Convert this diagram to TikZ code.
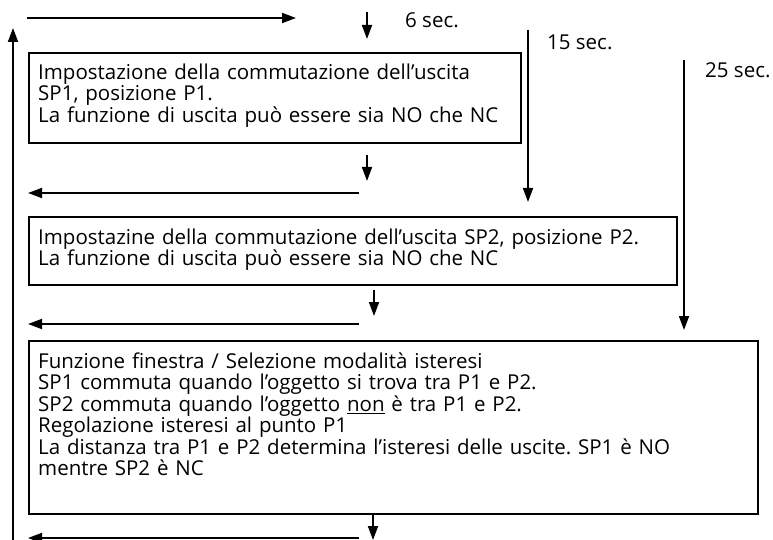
\documentclass[tikz,border=0pt]{standalone}
\usepackage{fontspec}
\setmainfont{Open Sans}
\usetikzlibrary{arrows.meta}
\newcommand{\topstrut}[1]{\rule{0pt}{#1}}
\newcommand{\botstrut}[1]{\rule[-#1]{0pt}{#1}}
\begin{document}
\lineskiplimit=-100pt\relax
\frenchspacing
\begin{tikzpicture}[x=1pt,y=-1pt,
  font=\fontsize{20.5}{21.5}\selectfont,
  flow/.style={line width=1.8pt,-{Triangle[length=14pt,width=10pt]}},
  box/.style={draw,line width=2.4pt,anchor=north west,align=left,inner xsep=9pt,inner ysep=0pt},
  lbl/.style={anchor=base west,inner sep=0pt}]
\useasboundingbox (0,0) rectangle (773,540);

\node[box,text width=474pt] (b1) at (28,52)
 {\topstrut{26pt}Impostazione della commutazione dell’uscita\\SP1, posizione P1.\\La funzione di uscita può essere sia NO che NC\botstrut{21pt}};
\node[box,text width=630pt] (b2) at (28,216)
 {\topstrut{27pt}Impostazine della commutazione dell’uscita SP2, posizione P2.\\La funzione di uscita può essere sia NO che NC\botstrut{19.5pt}};
\node[box,text width=711pt] (b3) at (28,340)
 {\topstrut{27pt}Funzione finestra / Selezione modalità isteresi\\SP1 commuta quando l’oggetto si trova tra P1 e P2.\\SP2 commuta quando l’oggetto \underline{non} è tra P1 e P2.\\Regolazione isteresi al punto P1\\La distanza tra P1 e P2 determina l’isteresi delle uscite. SP1 è NO\\mentre SP2 è NC\botstrut{38.5pt}};

\node[lbl] (t6) at (405,28) {6 sec.};
\node[lbl] (t15) at (547,50) {15 sec.};
\node[lbl] (t25) at (705,78) {25 sec.};

\coordinate (topL) at (27,18);  \coordinate (topR) at (296,18);
\coordinate (upB) at (13,540);  \coordinate (upT) at (13,28);
\coordinate (a1s) at (367,12);  \coordinate (a1e) at (367,39);
\coordinate (s15) at (528,30);  \coordinate (e15) at (528,202);
\coordinate (s25) at (684,60);  \coordinate (e25) at (684,330);
\coordinate (a2s) at (367,155); \coordinate (a2e) at (367,181);
\coordinate (l1s) at (359,193); \coordinate (l1e) at (28,193);
\coordinate (a3s) at (374,290); \coordinate (a3e) at (374,316);
\coordinate (l2s) at (359,324); \coordinate (l2e) at (28,324);
\coordinate (a4s) at (373,515); \coordinate (a4e) at (373,540);
\coordinate (l3s) at (359,538); \coordinate (l3e) at (28,538);

\draw[flow] (topL) -- (topR);
\draw[flow] (upB) -- (upT);
\draw[flow] (a1s) -- (a1e);
\draw[flow] (s15) -- (e15);
\draw[flow] (s25) -- (e25);
\draw[flow] (a2s) -- (a2e);
\draw[flow] (l1s) -- (l1e);
\draw[flow] (a3s) -- (a3e);
\draw[flow] (l2s) -- (l2e);
\draw[flow] (a4s) -- (a4e);
\draw[flow] (l3s) -- (l3e);
\end{tikzpicture}
\end{document}
